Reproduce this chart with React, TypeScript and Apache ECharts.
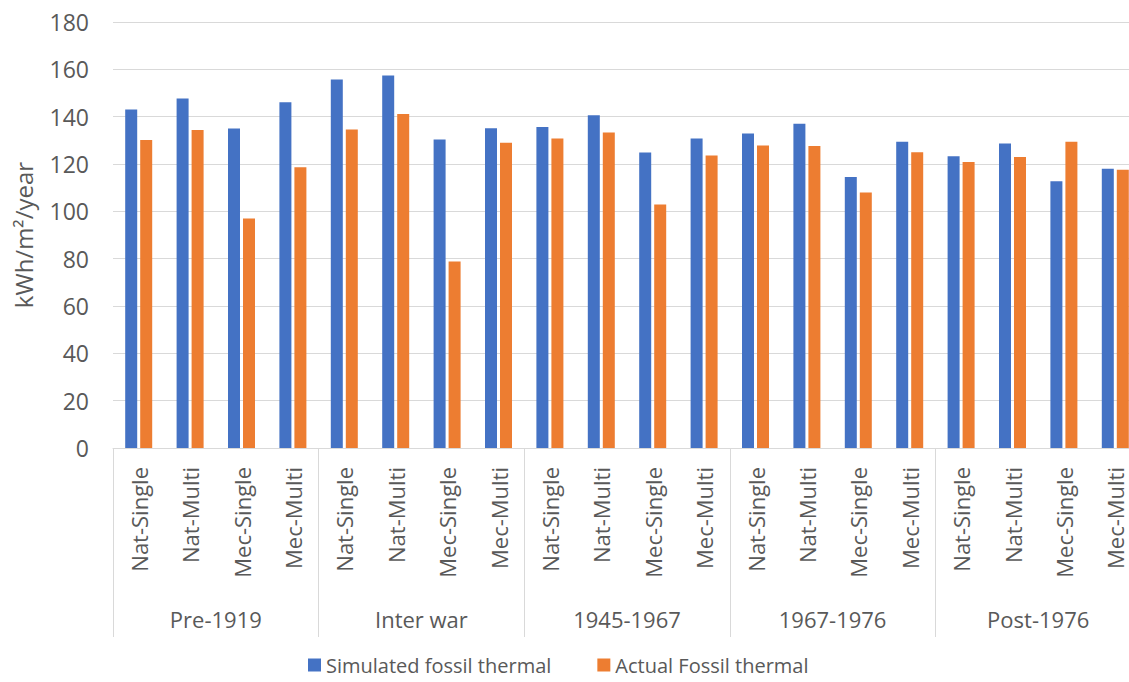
import React, { useEffect, useRef } from "react";
import * as echarts from "echarts";

const groups = ["Pre-1919", "Inter war", "1945-1967", "1967-1976", "Post-1976"];
const subTypes = ["Nat-Single", "Nat-Multi", "Mec-Single", "Mec-Multi"];
const categories = groups.flatMap(() => subTypes);

const simulated = [
  143.0, 147.7, 135.0, 146.1,
  155.7, 157.4, 130.4, 135.1,
  135.6, 140.6, 124.9, 130.8,
  132.9, 137.0, 114.5, 129.4,
  123.3, 128.7, 112.7, 118.0,
];
const actual = [
  130.1, 134.4, 97.0, 118.6,
  134.6, 141.1, 78.8, 129.0,
  130.8, 133.3, 102.9, 123.6,
  127.8, 127.6, 108.0, 125.0,
  120.8, 123.0, 129.4, 117.6,
];

const FONT = "'Open Sans', sans-serif";
const TXT = "#595959";
const GRID = "#d9d9d9";

export default function App() {
  const ref = useRef<HTMLDivElement>(null);
  useEffect(() => {
    if (!ref.current) return;
    const chart = echarts.init(ref.current, undefined, { renderer: "svg" });
    chart.setOption({
      animation: false,
      textStyle: { fontFamily: FONT },
      grid: { left: 113, right: 19, top: 22, bottom: 234, outerBoundsMode: "none", containLabel: false },
      legend: {
        left: 308,
        top: 653,
        itemWidth: 13,
        itemHeight: 13,
        itemGap: 46,
        icon: "rect",
        padding: 0,
        textStyle: { fontFamily: FONT, fontSize: 20, color: TXT, lineHeight: 24 },
        data: ["Simulated fossil thermal", "Actual Fossil thermal"],
      },
      xAxis: [
        {
          type: "category",
          data: categories,
          position: "bottom",
          axisLine: { show: true, lineStyle: { color: GRID, width: 1 } },
          axisTick: { show: false },
          axisLabel: {
            interval: 0,
            rotate: 90,
            margin: 19,
            fontFamily: FONT,
            fontSize: 22,
            color: TXT,
          },
        },
        {
          type: "category",
          data: groups,
          position: "bottom",
          axisLine: { show: false },
          axisTick: { show: true, interval: 0, length: 189, lineStyle: { color: GRID, width: 1 } },
          axisLabel: {
            interval: 0,
            margin: 160,
            fontFamily: FONT,
            fontSize: 22,
            color: TXT,
          },
        },
      ],
      yAxis: {
        type: "value",
        min: 0,
        max: 180,
        interval: 20,
        name: "kWh/m²/year",
        nameLocation: "middle",
        nameGap: 78,
        nameTextStyle: { fontFamily: FONT, fontSize: 24, color: TXT },
        axisLine: { show: false },
        axisTick: { show: false },
        axisLabel: { margin: 24, fontFamily: FONT, fontSize: 23, color: TXT },
        splitLine: { lineStyle: { color: GRID, width: 1 } },
      },
      series: [
        {
          name: "Simulated fossil thermal",
          type: "bar",
          xAxisIndex: 0,
          data: simulated,
          barWidth: 12,
          barGap: "25%",
          itemStyle: { color: "#4472C4" },
        },
        {
          name: "Actual Fossil thermal",
          type: "bar",
          xAxisIndex: 0,
          data: actual,
          barWidth: 12,
          barGap: "25%",
          itemStyle: { color: "#ED7D31" },
        },
      ],
    });
    return () => chart.dispose();
  }, []);
  return (
    <div style={{ position: "fixed", left: 0, top: 0, width: 1129, height: 682, overflow: "hidden", background: "#fff" }}>
      <div ref={ref} style={{ width: 1160, height: 682 }} />
    </div>
  );
}
